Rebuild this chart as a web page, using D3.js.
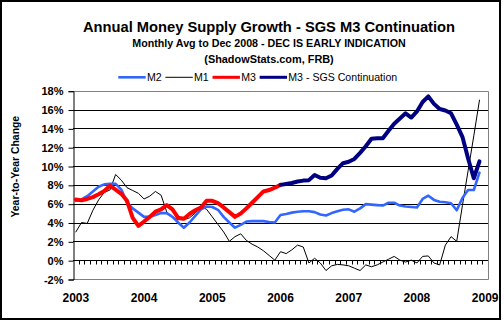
<!DOCTYPE html>
<html>
<head>
<meta charset="utf-8">
<script src="https://cdn.jsdelivr.net/npm/d3@7"></script>
<style>
  body { margin: 0; background: #fff; }
  svg { display: block; }
  text { font-family: "Liberation Sans", Arial, Helvetica, sans-serif; fill: #000; }
</style>
</head>
<body>
<svg id="chart" width="504" height="321"></svg>
<script>
// Monthly categories, Jan 2003 .. Jan 2009 (last slot only carries the 2009 label)
const months = d3.timeMonths(new Date(2003, 0, 1), new Date(2009, 1, 1));
const yearLabels = ["2003", "2004", "2005", "2006", "2007", "2008", "2009"];
const yTicks = [-2, 0, 2, 4, 6, 8, 10, 12, 14, 16, 18];

// Year-over-year growth, % (Jan 2003 .. Dec 2008)
const m2 = [6.3, 6.45, 6.8, 7.3, 7.8, 8.05, 8.1, 8.1, 7.5, 6.1, 5.5, 5.05,
            4.6, 4.6, 4.8, 5.0, 5.0, 4.6, 4.0, 3.45, 4.0, 4.7, 5.4, 5.7,
            5.65, 5.35, 4.6, 4.0, 3.45, 3.75, 4.1, 4.15, 4.15, 4.15, 4.05, 4.0,
            4.8, 4.9, 5.05, 5.15, 5.2, 5.2, 5.1, 4.85, 4.75, 5.0, 5.2, 5.35,
            5.4, 5.15, 5.5, 5.95, 5.9, 5.85, 5.8, 6.1, 6.1, 5.8, 5.7, 5.65,
            5.6, 6.5, 6.85, 6.4, 6.2, 6.15, 6.05, 5.3, 6.6, 7.45, 7.45, 9.3];

const m1 = [3.0, 4.0, 3.9, 5.3, 6.4, 7.2, 7.45, 9.1, 8.5, 7.7, 7.4, 7.1,
            6.5, 6.8, 7.3, 6.9, 5.1, 4.6, 4.3, 4.3, 4.5, 5.0, 5.7, 5.4,
            4.6, 3.8, 3.0, 2.0, 2.5, 2.8, 2.1, 1.7, 1.4, 1.0, 0.5, 0.0,
            0.9, 0.7, 1.1, 1.6, 1.4, -0.3, 0.2, -0.3, -1.1, -0.6, -0.45, -0.5,
            -0.6, -0.85, -1.1, -0.5, -0.7, -0.5, -0.2, 0.1, 0.4, 0.0, -0.2, 0.0,
            -0.3, 0.4, 0.45, -0.3, -0.5, 1.6, 2.5, 2.0, 5.8, 9.5, 13.2, 17.0];

// Official M3 (Jan 2003 .. Jan 2006)
const m3 = [6.45, 6.35, 6.5, 6.7, 7.0, 7.35, 7.9, 7.5, 7.05, 6.3, 4.5, 3.65,
            4.1, 4.6, 5.15, 5.4, 5.85, 5.4, 4.5, 4.4, 4.9, 5.3, 5.6, 6.3,
            6.3, 6.05, 5.6, 5.1, 4.6, 4.95, 5.5, 6.1, 6.7, 7.3, 7.45, 7.7,
            8.0];

// SGS M3 continuation (Jan 2006 .. Dec 2008)
const sgsStart = 36;
const sgsM3 = [8.0, 8.1, 8.2, 8.35, 8.45, 8.5, 9.05, 8.75, 8.7, 9.0, 9.7, 10.3,
               10.45, 10.75, 11.4, 12.1, 12.9, 12.95, 12.95, 13.75, 14.5, 15.05, 15.6, 15.15,
               15.8, 16.8, 17.4, 16.6, 16.05, 15.9, 15.6, 14.4, 13.1, 10.8, 8.7, 10.5];

const svg = d3.select("#chart");
const plot = { left: 73, right: 488, top: 90.7, bottom: 279 };

const x = d3.scaleBand()
  .domain(months.map(d => +d))
  .range([plot.left, plot.right])
  .paddingInner(0).paddingOuter(0);
const cx = i => x(+months[i]) + x.bandwidth() / 2;

const y = d3.scaleLinear().domain([-2, 18]).range([plot.bottom, plot.top]);

// outer frame
svg.append("rect")
  .attr("x", 1).attr("y", 1).attr("width", 499).attr("height", 318)
  .attr("fill", "#fff").attr("stroke", "#000").attr("stroke-width", 2);

// titles
const titleX = 269;
svg.append("text").attr("x", titleX).attr("y", 31.7).attr("text-anchor", "middle")
  .style("font-size", "14.7px").style("font-weight", "bold")
  .text("Annual Money Supply Growth - SGS M3 Continuation");
svg.append("text").attr("x", titleX).attr("y", 47.3).attr("text-anchor", "middle")
  .style("font-size", "10.7px").style("font-weight", "bold")
  .text("Monthly Avg to Dec 2008 - DEC IS EARLY INDICATION");
svg.append("text").attr("x", titleX).attr("y", 62.6).attr("text-anchor", "middle")
  .style("font-size", "10.9px").style("font-weight", "bold")
  .text("(ShadowStats.com, FRB)");

// gridlines
svg.append("g")
  .selectAll("line")
  .data(yTicks.filter(v => v > -2 && v < 18))
  .join("line")
  .attr("x1", plot.left).attr("x2", plot.right)
  .attr("y1", d => Math.round(y(d)) + 0.5).attr("y2", d => Math.round(y(d)) + 0.5)
  .attr("stroke", "#000").attr("stroke-width", 1);

// plot area border (grey), top/right/bottom
svg.append("path")
  .attr("d", `M${plot.left},${Math.round(plot.top) + 0.5}H${plot.right + 0.5}V${Math.round(plot.bottom) + 0.5}H${plot.left}`)
  .attr("fill", "none").attr("stroke", "#808080").attr("stroke-width", 1);

// value axis
const yAxis = d3.axisLeft(y).tickValues(yTicks).tickSize(5).tickPadding(5)
  .tickFormat(d => d + "%");
const gy = svg.append("g")
  .attr("transform", `translate(${plot.left + 0.5},0.5)`)
  .call(yAxis);
gy.select(".domain").attr("stroke", "#000");
gy.selectAll(".tick line").attr("stroke", "#000");
gy.selectAll(".tick text")
  .style("font-size", "11px").style("font-weight", "bold")
  .style("font-family", '"Liberation Sans", Arial, sans-serif')
  .attr("fill", "#000");

// category axis on the 0% line, ticks at month boundaries
const zeroY = Math.round(y(0)) + 0.5;
svg.append("g")
  .selectAll("line")
  .data(months.slice(1))
  .join("line")
  .attr("x1", d => Math.round(x(+d)) + 0.5).attr("x2", d => Math.round(x(+d)) + 0.5)
  .attr("y1", zeroY).attr("y2", zeroY + 4)
  .attr("stroke", "#000");

// year labels
svg.append("g")
  .selectAll("text")
  .data(yearLabels)
  .join("text")
  .attr("x", d => x(+new Date(+d, 0, 1)) + x.bandwidth() / 2)
  .attr("y", 302)
  .attr("text-anchor", "middle")
  .style("font-size", "12px").style("font-weight", "bold")
  .text(d => d);

// value axis title
svg.append("text")
  .attr("transform", "translate(19.2,166.7) rotate(-90)")
  .attr("text-anchor", "middle")
  .style("font-size", "10.4px").style("font-weight", "bold")
  .text("Year-to-Year Change");

// series
const line = d3.line().x(d => cx(d.i)).y(d => y(d.v));
const series = [
  { name: "M2", values: m2, start: 0, color: "#3366ff", width: 2.6 },
  { name: "M1", values: m1, start: 0, color: "#000000", width: 1 },
  { name: "M3", values: m3, start: 0, color: "#ff0000", width: 4 },
  { name: "M3 - SGS Continuation", values: sgsM3, start: sgsStart, color: "#000080", width: 4 }
];
const drawOrder = [series[1], series[0], series[2], series[3]];
svg.append("g")
  .selectAll("path")
  .data(drawOrder)
  .join("path")
  .attr("d", s => line(s.values.map((v, k) => ({ i: s.start + k, v }))))
  .attr("fill", "none")
  .attr("stroke", s => s.color)
  .attr("stroke-width", s => s.width)
  .attr("stroke-linejoin", "round")
  .attr("stroke-linecap", "round");

// legend
const legend = svg.append("g").attr("transform", "translate(0,77.3)");
let lx = 118.3;
series.forEach(s => {
  legend.append("line")
    .attr("x1", lx).attr("x2", lx + 27.4).attr("y1", 0).attr("y2", 0)
    .attr("stroke", s.color).attr("stroke-width", Math.min(s.width, 3));
  const t = legend.append("text")
    .attr("x", lx + 28.6).attr("y", 3.8)
    .style("font-size", "10.6px")
    .text(s.name);
  lx = lx + 28.6 + t.node().getComputedTextLength() + 3.8;
});
</script>
</body>
</html>
